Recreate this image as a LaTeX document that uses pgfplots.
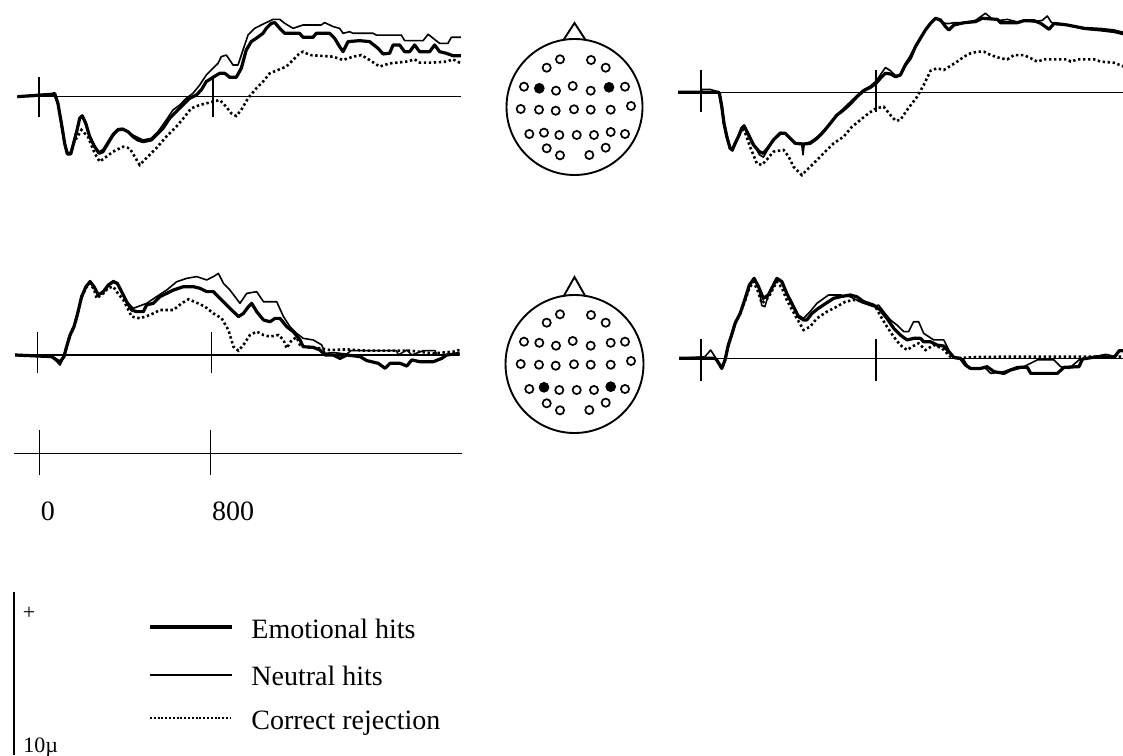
\documentclass[border=0pt]{standalone}
\usepackage{pgfplots}
\pgfplotsset{compat=1.18}
\usepackage{fontspec}
\setmainfont{Liberation Serif}
\begin{document}
\begin{tikzpicture}
\useasboundingbox (0pt,0pt) rectangle (561.5pt,-377.5pt);
\pgfplotsset{
  erp/.style={hide axis, y=8pt, ymin=-6, ymax=6, anchor=south west},
  emo/.style={black, line width=1.6pt, line join=round},
  neu/.style={black, line width=0.8pt, line join=round},
  cr/.style={black, line width=1.3pt, dash pattern=on 1.2pt off 1.3pt},
  base/.style={black, line width=0.75pt},
  head/.style={hide axis, x=0.5pt, y=0.5pt, xmin=-75, xmax=75, ymin=-75, ymax=90, anchor=south west, clip=false},
  openel/.style={only marks, mark=o, mark size=2.05pt, mark options={line width=0.85pt, black}},
  fillel/.style={only marks, mark=*, mark size=2.45pt, black, mark options={black}},
}
% ---------------- Panel 1 (top left)
\begin{axis}[erp, x=0.10875pt, xmin=-100, xmax=1940, at={(8.625pt,-96.33pt)}]
\addplot[base] coordinates {(-100,0) (1940,0)};
\addplot[base] coordinates {(0,-1.25) (0,1.25)};
\addplot[base] coordinates {(800,-1.25) (800,1.25)};
\addplot[cr] coordinates {(-100,0) (60,0.1) (72,0.15) (87,-0.42) (103,-1.67) (118,-2.92) (130,-3.5) (146,-3.5) (159,-2.9) (195,-2.08) (225,-2.5) (256,-3.54) (279,-4.06) (310,-3.75) (340,-3.44) (386,-3.13) (417,-3.23) (440,-3.75) (463,-4.27) (493,-3.85) (539,-3.23) (585,-2.5) (631,-1.88) (670,-1.25) (700,-0.73) (739,-0.52) (769,-0.42) (800,-0.31) (831,-0.21) (861,-0.63) (884,-1.04) (907,-1.21) (930,-0.83) (961,-0.10) (999,0.52) (1030,0.94) (1061,1.46) (1099,1.67) (1137,1.88) (1168,2.29) (1198,2.71) (1214,2.81) (1245,2.6) (1352,2.5) (1398,2.29) (1444,2.5) (1482,2.6) (1520,2.29) (1566,1.88) (1612,2.08) (1689,2.19) (1727,2.33) (1750,2.13) (1812,2.13) (1873,2.19) (1903,2.33) (1940,2.08)};
\addplot[neu] coordinates {(-100,0) (60,0.15) (72,0.2) (87,-0.42) (103,-1.67) (118,-2.92) (130,-3.5) (146,-3.5) (159,-2.85) (175,-2.0) (187,-1.3) (199,-1.15) (215,-1.6) (233,-2.45) (256,-3.1) (276,-3.45) (294,-3.3) (317,-2.8) (340,-2.3) (363,-2.0) (386,-1.98) (432,-2.40) (478,-2.71) (516,-2.60) (547,-2.19) (585,-1.46) (616,-0.83) (647,-0.52) (677,-0.10) (708,0.21) (739,0.73) (769,1.35) (800,1.77) (823,2.08) (838,2.5) (861,2.6) (877,2.29) (892,1.98) (915,1.98) (938,2.92) (961,3.85) (992,4.27) (1022,4.48) (1045,4.63) (1076,4.83) (1107,4.83) (1130,4.58) (1168,4.27) (1214,4.48) (1298,4.48) (1313,4.63) (1352,4.38) (1382,4.27) (1398,3.96) (1428,4.06) (1444,3.96) (1536,3.96) (1551,3.85) (1666,3.85) (1681,3.5) (1766,3.5) (1789,3.9) (1812,3.65) (1842,3.33) (1880,3.33) (1896,3.71) (1940,3.71)};
\addplot[emo] coordinates {(-100,0) (60,0.15) (72,0.2) (87,-0.42) (103,-1.67) (118,-2.92) (130,-3.58) (146,-3.58) (159,-2.92) (175,-2.08) (187,-1.35) (199,-1.21) (215,-1.67) (233,-2.5) (256,-3.13) (276,-3.54) (294,-3.44) (317,-2.92) (340,-2.4) (363,-2.08) (386,-2.04) (409,-2.19) (432,-2.5) (455,-2.71) (478,-2.81) (516,-2.71) (539,-2.4) (570,-1.98) (601,-1.35) (631,-0.94) (662,-0.52) (693,-0.10) (723,0.10) (746,0.42) (769,0.94) (800,1.21) (831,1.46) (854,1.46) (877,1.21) (907,1.21) (930,1.77) (953,2.92) (976,3.44) (999,3.65) (1030,3.96) (1045,4.27) (1068,4.58) (1084,4.63) (1107,4.27) (1130,3.96) (1198,3.96) (1214,3.71) (1260,3.71) (1275,3.96) (1336,3.96) (1359,3.65) (1382,3.13) (1398,2.81) (1421,3.44) (1474,3.5) (1520,3.44) (1559,3.02) (1582,2.67) (1612,2.71) (1628,3.23) (1658,3.23) (1681,2.81) (1704,2.81) (1727,3.23) (1750,2.81) (1796,2.81) (1819,3.23) (1842,2.81) (1873,2.71) (1903,2.56) (1940,2.56)};
\end{axis}
% ---------------- Panel 2 (top right)
\begin{axis}[erp, x=0.109375pt, xmin=-105, xmax=1930, at={(339.02pt,-94.17pt)}]
\addplot[base] coordinates {(-105,0) (1930,0)};
\addplot[base] coordinates {(0,-1.23) (0,1.4)};
\addplot[base] coordinates {(800,-1.23) (800,1.4)};
\addplot[cr] coordinates {(-105,0) (80,0) (84,-0.06) (95,-0.9) (105,-1.94) (118,-2.77) (133,-3.5) (143,-3.6) (156,-3.19) (171,-2.77) (186,-2.25) (201,-2.5) (224,-3.4) (255,-4.44) (278,-4.54) (301,-4.2) (331,-3.71) (377,-3.6) (400,-4.0) (423,-4.65) (461,-5.17) (484,-4.85) (515,-4.44) (560,-3.81) (606,-3.19) (652,-2.77) (690,-2.15) (728,-1.73) (766,-1.31) (800,-1.0) (835,-0.9) (866,-1.42) (889,-1.77) (911,-1.73) (942,-1.1) (988,-0.27) (1018,0.46) (1049,1.35) (1079,1.5) (1110,1.4) (1140,1.65) (1171,1.92) (1202,2.23) (1232,2.44) (1263,2.54) (1293,2.54) (1324,2.33) (1369,2.13) (1400,2.06) (1431,2.33) (1476,2.33) (1507,2.13) (1537,1.92) (1568,2.06) (1675,2.06) (1690,1.92) (1721,2.06) (1797,2.06) (1827,1.92) (1888,1.85) (1934,1.6)};
\addplot[neu] coordinates {(-105,0) (0,0) (5,0.19) (41,0.19) (84,0) (95,-0.9) (105,-1.94) (118,-2.77) (133,-3.4) (143,-3.55) (156,-3.1) (171,-2.7) (186,-2.2) (197,-2.05) (217,-2.55) (240,-3.2) (267,-3.9) (285,-4.05) (304,-3.6) (331,-2.95) (362,-2.5) (385,-2.55) (408,-2.9) (431,-3.15) (460,-3.2) (466,-3.9) (472,-3.2) (499,-3.1) (530,-2.8) (560,-2.4) (591,-1.9) (621,-1.4) (652,-1.0) (682,-0.6) (713,-0.2) (743,0.15) (774,0.4) (800,0.7) (820,1.1) (843,1.55) (866,1.35) (889,1.05) (911,1.1) (934,1.8) (957,2.3) (980,2.9) (1003,3.4) (1026,3.9) (1049,4.31) (1072,4.6) (1095,4.45) (1118,4.3) (1133,4.3) (1156,4.35) (1202,4.35) (1255,4.5) (1300,4.94) (1330,4.6) (1369,4.5) (1400,4.56) (1446,4.4) (1476,4.5) (1522,4.4) (1560,4.5) (1583,4.77) (1600,4.4) (1614,4.25) (1675,4.2) (1752,3.95) (1827,3.85) (1888,3.75) (1934,3.6)};
\addplot[emo] coordinates {(-105,0) (80,0) (84,-0.06) (95,-0.9) (105,-1.94) (118,-2.77) (133,-3.5) (143,-3.6) (156,-3.19) (171,-2.77) (186,-2.25) (197,-2.1) (217,-2.67) (240,-3.29) (267,-3.71) (285,-3.81) (304,-3.5) (331,-2.98) (362,-2.56) (385,-2.56) (408,-2.88) (431,-3.19) (469,-3.23) (499,-3.19) (530,-2.88) (560,-2.46) (591,-1.94) (621,-1.42) (652,-1.1) (682,-0.73) (713,-0.27) (743,0.1) (774,0.31) (800,0.56) (820,0.88) (843,1.19) (866,1.15) (889,0.98) (911,1.08) (934,1.71) (957,2.13) (980,2.85) (1003,3.38) (1026,3.9) (1049,4.31) (1072,4.63) (1095,4.52) (1118,4.1) (1133,3.9) (1156,4.21) (1202,4.35) (1255,4.42) (1285,4.63) (1354,4.56) (1369,4.35) (1446,4.35) (1476,4.48) (1522,4.48) (1553,4.31) (1591,3.94) (1614,4.31) (1675,4.21) (1752,4.0) (1827,3.94) (1888,3.85) (1934,3.69)};
\end{axis}
% ---------------- Panel 3 (bottom left)
\begin{axis}[erp, x=0.10875pt, xmin=-104, xmax=1940, at={(7.53pt,-225.5pt)}]
\addplot[base] coordinates {(-104,0) (1940,0)};
\addplot[base] coordinates {(0,-1.13) (0,1.44)};
\addplot[base] coordinates {(800,-1.13) (800,1.44)};
\addplot[cr] coordinates {(-104,0) (64,-0.1) (87,-0.31) (103,-0.42) (121,-0.1) (133,0.52) (149,1.25) (167,1.77) (182,2.5) (202,3.6) (222,4.2) (241,4.48) (259,4.1) (271,3.54) (302,3.85) (325,4.2) (348,4.27) (366,3.9) (394,3.44) (432,2.4) (470,2.29) (516,2.5) (562,2.81) (624,2.81) (662,3.23) (693,3.48) (731,3.27) (769,3.02) (808,2.6) (846,2.29) (877,1.56) (900,0.52) (923,0.27) (946,0.63) (976,1.25) (1007,1.46) (1038,1.25) (1068,1.15) (1107,1.25) (1130,0.94) (1145,0.42) (1168,0.94) (1191,1.1) (1206,0.63) (1237,0.48) (1298,0.42) (1344,0.31) (1421,0.35) (1513,0.27) (1712,0.27) (1819,0.1) (1911,0.21) (1940,0.31)};
\addplot[neu] coordinates {(-104,0) (64,-0.1) (87,-0.4) (103,-0.63) (121,-0.1) (133,0.52) (149,1.25) (167,1.77) (182,2.5) (202,3.65) (222,4.3) (241,4.65) (259,4.3) (279,3.75) (302,3.96) (325,4.4) (348,4.65) (366,4.5) (386,3.96) (409,3.33) (440,2.92) (501,3.23) (547,3.65) (593,4.06) (639,4.58) (685,4.79) (731,4.9) (777,4.69) (808,4.9) (831,5.1) (854,4.48) (884,4.06) (930,3.23) (961,3.85) (1007,3.96) (1038,3.33) (1099,3.33) (1130,2.4) (1160,1.77) (1191,1.35) (1221,1.04) (1267,0.94) (1306,0.63) (1321,0.1) (1359,0.15) (1421,0.06) (1440,0.27) (1513,0.27) (1650,0.27) (1658,0) (1697,0.31) (1720,0) (1773,0.27) (1827,0.27) (1835,0) (1940,0.06)};
\addplot[emo] coordinates {(-104,0) (64,-0.1) (87,-0.31) (103,-0.42) (121,-0.1) (133,0.52) (149,1.25) (167,1.77) (182,2.5) (202,3.65) (222,4.27) (241,4.58) (259,4.27) (279,3.75) (302,3.96) (325,4.38) (348,4.58) (366,4.48) (386,3.96) (409,3.33) (432,2.81) (455,2.71) (486,2.71) (501,3.13) (532,3.23) (562,3.65) (593,3.85) (624,4.06) (670,4.27) (716,4.27) (746,4.17) (777,3.96) (808,3.96) (838,3.54) (884,2.92) (923,2.4) (946,2.6) (969,3.02) (984,3.23) (1007,2.71) (1038,2.19) (1068,2.08) (1091,2.29) (1114,2.29) (1145,1.77) (1175,1.46) (1206,0.94) (1221,0.52) (1267,0.48) (1298,0.31) (1321,0) (1359,0) (1390,-0.21) (1421,0) (1482,-0.1) (1513,-0.35) (1566,-0.52) (1597,-0.83) (1620,-0.52) (1666,-0.52) (1697,-0.69) (1720,-0.31) (1758,-0.42) (1819,-0.42) (1858,-0.21) (1880,0) (1940,0.1)};
\end{axis}
% ---------------- Panel 4 (bottom right)
\begin{axis}[erp, x=0.109375pt, xmin=-100, xmax=1929, at={(339.55pt,-227.17pt)}]
\addplot[base] coordinates {(-100,0) (1929,0)};
\addplot[base] coordinates {(0,-1.4) (0,1.2)};
\addplot[base] coordinates {(800,-1.4) (800,1.2)};
\addplot[cr] coordinates {(-100,0) (64,0) (72,-0.1) (95,-0.63) (110,-0.1) (125,0.83) (140,1.46) (156,2.19) (179,2.81) (202,3.6) (221,4.4) (240,4.79) (260,4.2) (278,3.44) (308,3.8) (331,4.4) (347,4.79) (370,4.4) (392,3.65) (438,2.5) (469,1.77) (499,1.98) (530,2.5) (576,2.92) (621,3.23) (660,3.54) (698,3.65) (751,3.54) (797,3.23) (827,2.5) (850,1.98) (881,1.35) (911,0.83) (942,0.52) (965,0.73) (995,0.94) (1026,0.52) (1064,0.83) (1102,0.63) (1140,0.1) (1171,0) (1250,0.08) (1385,0.1) (1690,0.1) (1934,0.1)};
\addplot[neu] coordinates {(-100,0) (18,0.1) (44,0.52) (64,0.1) (72,-0.1) (95,-0.63) (110,-0.1) (125,0.83) (140,1.46) (156,2.19) (179,2.81) (202,3.75) (221,4.58) (243,5.0) (263,4.48) (278,3.3) (292,3.23) (308,3.96) (331,4.58) (347,5.0) (370,4.79) (392,4.06) (415,3.44) (446,2.7) (469,2.5) (499,2.92) (530,3.44) (583,3.96) (637,3.96) (682,3.85) (736,3.48) (789,3.23) (812,3.33) (835,2.92) (866,2.4) (896,2.08) (927,1.67) (949,1.67) (972,2.29) (995,2.29) (1018,1.56) (1064,1.15) (1110,1.15) (1140,0.31) (1163,0) (1202,-0.1) (1225,-0.63) (1301,-0.63) (1324,-0.94) (1385,-0.83) (1446,-0.52) (1476,-0.52) (1537,-0.1) (1614,-0.1) (1644,-0.52) (1683,-0.63) (1728,-0.1) (1797,0.1) (1850,0.25) (1896,0.1) (1912,0.48) (1934,0.48)};
\addplot[emo] coordinates {(-100,0) (64,0) (72,-0.1) (95,-0.63) (110,-0.1) (125,0.83) (140,1.46) (156,2.19) (179,2.81) (202,3.75) (221,4.58) (243,5.0) (263,4.48) (285,3.75) (308,3.96) (331,4.58) (347,5.0) (370,4.79) (392,4.06) (415,3.44) (446,2.6) (469,2.4) (484,2.4) (507,2.81) (537,3.13) (576,3.48) (606,3.75) (637,3.85) (682,3.96) (713,3.85) (743,3.54) (789,3.33) (820,3.02) (850,2.5) (881,1.88) (911,1.46) (942,1.15) (972,1.25) (1003,1.25) (1018,1.04) (1049,1.04) (1079,0.83) (1110,0.77) (1133,0.42) (1156,0.06) (1186,0) (1209,-0.42) (1232,-0.63) (1278,-0.63) (1308,-0.52) (1339,-0.83) (1385,-0.94) (1415,-0.73) (1461,-0.56) (1492,-0.56) (1507,-0.94) (1629,-0.94) (1660,-0.56) (1728,-0.52) (1744,-0.04) (1812,0.1) (1843,0.1) (1889,0.06) (1912,0.48) (1934,0.48)};
\end{axis}
% ---------------- Time axis
\begin{axis}[hide axis, x=0.107pt, y=8pt, xmin=-118, xmax=1975, ymin=-5, ymax=2, anchor=south west, at={(7.03pt,-266.67pt)}, clip=false]
\addplot[base] coordinates {(-118,0) (1975,0)};
\addplot[base] coordinates {(0,-1.375) (0,1.44)};
\addplot[base] coordinates {(800,-1.375) (800,1.44)};
\node[anchor=base west, inner sep=0pt, font=\fontsize{14pt}{16pt}\selectfont] at (axis cs:6,-4.17) {0};
\node[anchor=base west, inner sep=0pt, font=\fontsize{14pt}{16pt}\selectfont] at (axis cs:806,-4.17) {800};
\end{axis}
% ---------------- Head 1
\begin{axis}[head, at={(249.75pt,-91pt)}]
\draw[line width=0.95pt] (axis cs:0,0) circle[radius=34pt];
\draw[line width=0.95pt] (axis cs:-11,67.1) -- (axis cs:0,84) -- (axis cs:11,67.1);
\addplot[openel] coordinates {(-14.5,47.7) (16.5,47) (-27.8,39.3) (31.2,39.3) (-50.5,20.3) (-18.5,16.3) (-1.8,21) (16.2,16.3) (50.5,20.3) (-53.8,-2) (-35.5,-2.7) (-18.8,-3.7) (-0.5,-2.3) (16.2,-2.7) (36.2,-2.7) (56.5,1) (-45.2,-27) (-30.5,-25.7) (-15.2,-28) (2.2,-28) (19.5,-28) (36.2,-25) (50.5,-27) (-27.8,-41.3) (31.2,-40.7) (-14.5,-48.3) (14.8,-48)};
\addplot[fillel] coordinates {(-35.2,18.7) (34.5,19.7)};
\end{axis}
% ---------------- Head 2
\begin{axis}[head, at={(249.75pt,-219.5pt)}]
\draw[line width=0.95pt] (axis cs:0,0) circle[radius=34.5pt];
\draw[line width=0.95pt] (axis cs:-11,67.5) -- (axis cs:0,87) -- (axis cs:11,67.5);
\addplot[openel] coordinates {(-14.5,49.7) (16.5,49) (-27.8,41.3) (31.2,41.3) (-50.5,22.3) (-35.2,21.2) (-18.5,18.3) (-1.8,23) (16.2,18.3) (36.2,21.2) (50.5,22.3) (-53.8,0) (-35.5,-0.7) (-18.8,-1.7) (-0.5,-0.3) (16.2,-0.7) (36.2,-0.7) (56.5,3) (-45.2,-25) (-15.2,-26) (2.2,-26) (19.5,-26) (50.5,-25) (-27.8,-39.3) (31.2,-38.7) (-14.5,-46.3) (14.8,-46)};
\addplot[fillel] coordinates {(-30.5,-23.3) (36.2,-22.7)};
\end{axis}
% ---------------- Scale bar and legend
\draw[line width=0.75pt] (7pt,-296pt) -- (7pt,-377.5pt);
\node[inner sep=0pt, font=\fontsize{11pt}{13pt}\selectfont] at (14.5pt,-306.5pt) {+};
\node[anchor=base west, inner sep=0pt, font=\fontsize{11pt}{13pt}\selectfont] at (11.5pt,-376pt) {10µ};
\draw[line width=2pt] (75pt,-313.5pt) -- (116pt,-313.5pt);
\draw[line width=0.8pt] (75pt,-337.5pt) -- (116pt,-337.5pt);
\draw[line width=1.3pt, dash pattern=on 1pt off 0.9pt] (75pt,-359pt) -- (115pt,-359pt);
\node[anchor=base west, inner sep=0pt, font=\fontsize{14pt}{16pt}\selectfont] at (125.5pt,-319pt) {Emotional hits};
\node[anchor=base west, inner sep=0pt, font=\fontsize{14pt}{16pt}\selectfont] at (125.5pt,-342.5pt) {Neutral hits};
\node[anchor=base west, inner sep=0pt, font=\fontsize{14pt}{16pt}\selectfont] at (125.5pt,-364.5pt) {Correct rejection};
\end{tikzpicture}
\end{document}
